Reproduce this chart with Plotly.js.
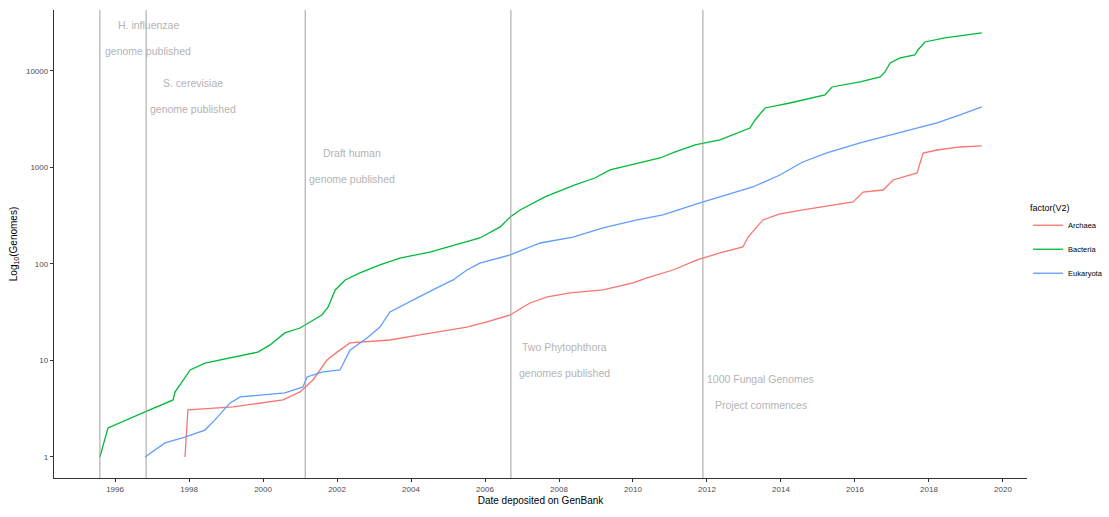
<!DOCTYPE html>
<html>
<head>
<meta charset="utf-8">
<script src="https://cdn.plot.ly/plotly-3.0.1.min.js"></script>
<style>html,body{margin:0;padding:0;background:#fff;}#chart{width:1109px;height:517px;}</style>
</head>
<body>
<div id="chart"></div>
<script>
// Bacteria
const bacteriaYears = [1995.59,1995.81,1996.81,1997.57,1997.62,1998.03,1998.43,1999.11,1999.86,2000.19,2000.59,2001.0,2001.59,2001.76,2001.95,2002.22,2002.62,2003.16,2003.70,2004.51,2005.19,2005.86,2006.41,2006.68,2006.95,2007.62,2008.43,2008.97,2009.38,2009.92,2010.73,2011.14,2011.68,2012.35,2013.16,2013.30,2013.57,2014.24,2015.19,2015.38,2016.14,2016.68,2016.81,2016.95,2017.22,2017.62,2017.70,2017.89,2018.43,2019.43];
const bacteriaCounts = [1,2.0,2.93,3.9,4.7,7.97,9.4,10.6,12.2,14.5,19.3,21.7,29.6,35.8,53.8,68.3,80.7,97.7,115,133,157,186,242,307,363,495,659,778,942,1061,1254,1448,1711,1928,2566,3106,4137,4659,5640,6827,7692,8667,9771,12100,13640,14650,16500,19980,21980,24770];
// Eukaryota
const eukaryotaYears = [1996.81,1997.35,1997.89,1998.43,1998.70,1999.11,1999.38,2000.05,2000.59,2001.0,2001.08,2001.19,2001.62,2002.08,2002.35,2002.81,2003.16,2003.43,2003.89,2004.43,2004.97,2005.14,2005.51,2005.86,2006.68,2007.49,2008.38,2009.19,2010.11,2010.81,2011.81,2012.35,2013.24,2013.97,2014.59,2015.24,2016.14,2016.76,2017.49,2018.22,2018.84,2019.43];
const eukaryotaCounts = [1,1.40,1.61,1.90,2.42,3.63,4.19,4.39,4.61,5.19,5.31,6.75,7.60,7.97,12.8,17.1,22.2,31.8,39.4,50.1,63.6,68.3,86.6,102,124,165,190,236,286,322,429,495,628,836,1140,1413,1794,2070,2447,2893,3500,4236];
// Archaea
const archaeaYears = [1997.89,1997.97,1999.19,2000.54,2001.0,2001.35,2001.73,2002.0,2002.35,2003.43,2004.24,2004.97,2005.51,2006.05,2006.68,2007.03,2007.22,2007.68,2008.30,2009.19,2010.0,2010.38,2011.08,2011.73,2012.35,2012.97,2013.11,2013.51,2013.97,2014.59,2015.95,2016.22,2016.76,2017.03,2017.68,2017.84,2018.22,2018.84,2019.43];
const archaeaCounts = [1,3.07,3.30,3.90,4.72,6.28,10.1,12.2,15.2,16.3,18.4,20.7,22.2,25.1,29.6,35.8,39.4,45.5,50.1,53.8,63.6,71.6,86.6,110,130,150,190,286,330,363,439,557,584,742,877,1413,1518,1631,1672];

// Events
const eventYears = [1995.59,1996.84,2001.14,2006.70,2011.89];
const eventLine1 = ["H. influenzae","S. cerevisiae","Draft human","Two Phytophthora","1000 Fungal Genomes"];
const eventLine2 = ["genome published","genome published","genome published","genomes published","Project commences"];
const eventLabelX = [1996.9,1998.12,2002.4,2008.15,2013.45];
const eventLabelY = [4.48,3.88,3.15,1.14,0.81]; // log10 position of first line

const xTicks = [1996,1998,2000,2002,2004,2006,2008,2010,2012,2014,2016,2018,2020];
const yTicks = [1,10,100,1000,10000];
const yTickText = ["1","10","100","1000","10000"];

const seriesNames = ["Archaea","Bacteria","Eukaryota"];
const seriesColors = ["#F8766D","#00BA38","#619CFF"];
const seriesX = [archaeaYears,bacteriaYears,eukaryotaYears];
const seriesY = [archaeaCounts,bacteriaCounts,eukaryotaCounts];

const traces = seriesNames.map((n,i)=>({
  type:'scatter', mode:'lines', name:n, x:seriesX[i], y:seriesY[i],
  line:{color:seriesColors[i], width:1.3}, legendgroup:n
}));

const shapes = eventYears.map(x=>({
  type:'line', xref:'x', yref:'paper', x0:x, x1:x, y0:0, y1:1,
  line:{color:'#a0a0a0', width:1}
}));

const annotations = [];
eventYears.forEach((e,i)=>{
  annotations.push({xref:'x', yref:'y', x:eventLabelX[i], y:eventLabelY[i], text:eventLine1[i], showarrow:false,
    font:{size:10.5, color:'#b4b4b4', family:'Liberation Sans, Arial, sans-serif'}});
  annotations.push({xref:'x', yref:'y', x:eventLabelX[i], y:eventLabelY[i]-0.27, text:eventLine2[i], showarrow:false,
    font:{size:10.5, color:'#b4b4b4', family:'Liberation Sans, Arial, sans-serif'}});
});

const layout = {
  width:1109, height:517,
  margin:{l:54, r:82, t:10, b:39},
  paper_bgcolor:'#fff', plot_bgcolor:'#fff',
  font:{family:'Liberation Sans, Arial, sans-serif', color:'#4d4d4d', size:8},
  showlegend:true,
  legend:{xref:'container', yref:'container', x:0.927, y:0.615, xanchor:'left', yanchor:'top', tracegroupgap:5,
    itemwidth:30, bgcolor:'rgba(0,0,0,0)',
    title:{text:'factor(V2)', font:{size:9, color:'#000'}}, font:{size:7.5, color:'#000'}},
  xaxis:{range:[1994.35,2020.65], tickmode:'array', tickvals:xTicks, ticktext:xTicks.map(String),
    showgrid:false, zeroline:false, showline:true, linecolor:'#333', linewidth:1.2,
    ticks:'outside', ticklen:3, tickcolor:'#333', tickfont:{size:8, color:'#4d4d4d'},
    title:{text:'Date deposited on GenBank', font:{size:10, color:'#000'}, standoff:4}},
  yaxis:{type:'log', range:[-0.218,4.632], tickmode:'array', tickvals:yTicks, ticktext:yTickText,
    showgrid:false, zeroline:false, showline:true, linecolor:'#333', linewidth:1.2,
    ticks:'outside', ticklen:3, tickcolor:'#333', tickfont:{size:8, color:'#4d4d4d'},
    title:{text:'Log<sub>10</sub>(Genomes)', font:{size:10, color:'#000'}, standoff:6}},
  shapes:shapes, annotations:annotations
};

Plotly.newPlot('chart', traces, layout, {displayModeBar:false, staticPlot:true});
</script>
</body>
</html>
